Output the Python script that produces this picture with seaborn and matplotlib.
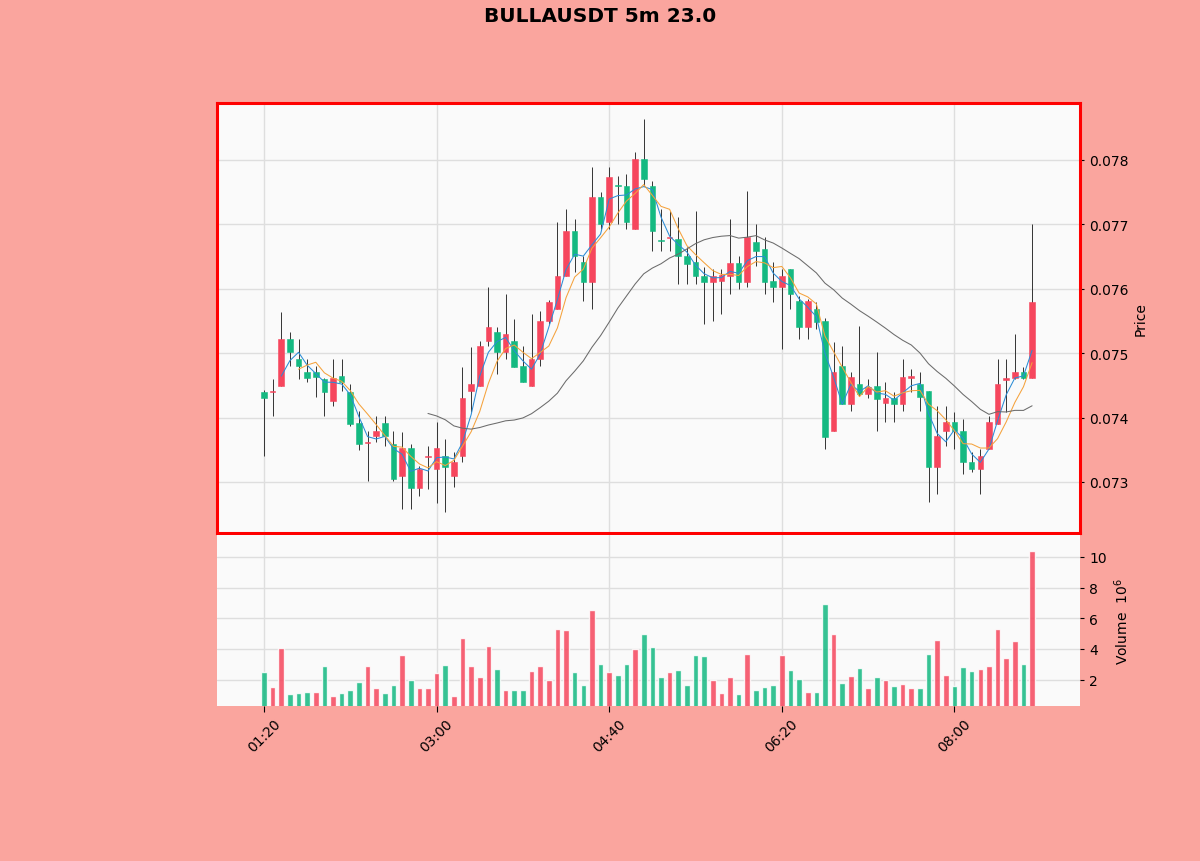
import matplotlib
matplotlib.use("Agg")
import matplotlib.pyplot as plt
import seaborn as sns
import numpy as np
import pandas as pd

# 5m candles, BULLAUSDT, starting 01:20
start_time = "01:20"
step_min = 5

opens = [0.07440, 0.07439, 0.07449, 0.07522, 0.07491, 0.07471, 0.07471, 0.07460, 0.07426, 0.07465,
         0.07440, 0.07392, 0.07360, 0.07371, 0.07392, 0.07359, 0.07309, 0.07353, 0.07291, 0.07338,
         0.07320, 0.07340, 0.07309, 0.07340, 0.07441, 0.07449, 0.07519, 0.07533, 0.07502, 0.07519,
         0.07480, 0.07449, 0.07491, 0.07550, 0.07569, 0.07620, 0.07690, 0.07642, 0.07611, 0.07743,
         0.07704, 0.07761, 0.07760, 0.07693, 0.07802, 0.07760, 0.07676, 0.07679, 0.07677, 0.07651,
         0.07642, 0.07620, 0.07611, 0.07612, 0.07620, 0.07640, 0.07611, 0.07673, 0.07662, 0.07612,
         0.07603, 0.07631, 0.07581, 0.07541, 0.07569, 0.07550, 0.07379, 0.07480, 0.07421, 0.07452,
         0.07437, 0.07449, 0.07422, 0.07430, 0.07421, 0.07462, 0.07452, 0.07441, 0.07323, 0.07379,
         0.07393, 0.07379, 0.07331, 0.07320, 0.07351, 0.07390, 0.07459, 0.07461, 0.07471, 0.07462]

highs = [0.07442, 0.07460, 0.07564, 0.07533, 0.07522, 0.07491, 0.07480, 0.07462, 0.07491, 0.07491,
         0.07452, 0.07410, 0.07379, 0.07403, 0.07403, 0.07379, 0.07378, 0.07359, 0.07325, 0.07356,
         0.07393, 0.07367, 0.07347, 0.07479, 0.07510, 0.07519, 0.07603, 0.07541, 0.07592, 0.07553,
         0.07511, 0.07561, 0.07566, 0.07583, 0.07704, 0.07724, 0.07708, 0.07651, 0.07789, 0.07750,
         0.07789, 0.07775, 0.07778, 0.07812, 0.07864, 0.07767, 0.07724, 0.07721, 0.07711, 0.07665,
         0.07721, 0.07634, 0.07631, 0.07631, 0.07708, 0.07651, 0.07752, 0.07701, 0.07680, 0.07642,
         0.07631, 0.07631, 0.07589, 0.07584, 0.07580, 0.07555, 0.07517, 0.07511, 0.07471, 0.07542,
         0.07460, 0.07502, 0.07455, 0.07440, 0.07491, 0.07476, 0.07470, 0.07441, 0.07418, 0.07418,
         0.07409, 0.07398, 0.07346, 0.07351, 0.07403, 0.07491, 0.07491, 0.07530, 0.07479, 0.07701]

lows = [0.07340, 0.07403, 0.07449, 0.07480, 0.07460, 0.07455, 0.07432, 0.07403, 0.07418, 0.07441,
        0.07387, 0.07350, 0.07302, 0.07362, 0.07356, 0.07302, 0.07258, 0.07258, 0.07278, 0.07289,
        0.07268, 0.07253, 0.07292, 0.07331, 0.07409, 0.07449, 0.07511, 0.07468, 0.07491, 0.07479,
        0.07455, 0.07449, 0.07480, 0.07545, 0.07569, 0.07620, 0.07626, 0.07581, 0.07569, 0.07693,
        0.07693, 0.07701, 0.07693, 0.07693, 0.07760, 0.07659, 0.07659, 0.07659, 0.07607, 0.07607,
        0.07607, 0.07545, 0.07550, 0.07561, 0.07592, 0.07600, 0.07603, 0.07635, 0.07592, 0.07580,
        0.07507, 0.07569, 0.07522, 0.07522, 0.07538, 0.07351, 0.07379, 0.07421, 0.07410, 0.07434,
        0.07430, 0.07379, 0.07393, 0.07393, 0.07410, 0.07440, 0.07410, 0.07269, 0.07281, 0.07356,
        0.07351, 0.07312, 0.07315, 0.07281, 0.07351, 0.07390, 0.07409, 0.07460, 0.07460, 0.07462]

closes = [0.07430, 0.07441, 0.07522, 0.07502, 0.07480, 0.07462, 0.07463, 0.07440, 0.07461, 0.07455,
          0.07390, 0.07359, 0.07362, 0.07379, 0.07371, 0.07305, 0.07353, 0.07291, 0.07320, 0.07340,
          0.07353, 0.07323, 0.07331, 0.07430, 0.07452, 0.07511, 0.07541, 0.07502, 0.07530, 0.07479,
          0.07455, 0.07491, 0.07550, 0.07580, 0.07620, 0.07690, 0.07651, 0.07611, 0.07743, 0.07701,
          0.07774, 0.07759, 0.07704, 0.07802, 0.07770, 0.07690, 0.07674, 0.07681, 0.07651, 0.07639,
          0.07620, 0.07611, 0.07620, 0.07621, 0.07640, 0.07611, 0.07680, 0.07659, 0.07611, 0.07603,
          0.07620, 0.07592, 0.07541, 0.07581, 0.07548, 0.07370, 0.07471, 0.07421, 0.07463, 0.07437,
          0.07448, 0.07429, 0.07431, 0.07421, 0.07463, 0.07464, 0.07432, 0.07323, 0.07371, 0.07393,
          0.07379, 0.07331, 0.07320, 0.07340, 0.07393, 0.07452, 0.07461, 0.07471, 0.07462, 0.07580]

# volume in millions
volumes = [2.50, 1.50, 4.05, 1.03, 1.14, 1.20, 1.20, 2.86, 0.92, 1.14,
           1.35, 1.83, 2.86, 1.46, 1.14, 1.63, 3.60, 2.00, 1.46, 1.46,
           2.43, 2.97, 0.92, 4.69, 2.86, 2.20, 4.19, 2.69, 1.29, 1.29,
           1.35, 2.58, 2.86, 1.96, 5.27, 5.23, 2.50, 1.63, 6.52, 3.00,
           2.50, 2.32, 3.00, 4.00, 4.95, 4.10, 2.17, 2.50, 2.60, 1.63,
           3.60, 3.55, 2.00, 1.14, 2.20, 1.03, 3.68, 1.29, 1.52, 1.63,
           3.60, 2.60, 2.05, 1.20, 1.20, 6.95, 4.95, 1.77, 2.26, 2.75,
           1.42, 2.20, 1.96, 1.57, 1.74, 1.46, 1.42, 3.70, 4.56, 2.32,
           1.57, 2.84, 2.58, 2.71, 2.88, 5.31, 3.40, 4.52, 3.00, 10.39]

mav_periods = [3, 5, 20]
mav_colors = ["#2b8cd6", "#f5a23c", "#6b6b6b"]
tick_every = 20

up_color = "#f6465d"
down_color = "#14b981"
bg_color = "#faa59e"

df = pd.DataFrame({"open": opens, "high": highs, "low": lows, "close": closes, "volume": volumes})
df["i"] = np.arange(len(df))
df["time"] = pd.date_range("2021-01-01 " + start_time, periods=len(df), freq=f"{step_min}min")
df["up"] = df["close"] >= df["open"]
prev = df["close"].shift(1)
df["vdir"] = np.where(prev.isna(), np.where(df["up"], "up", "down"),
                      np.where(df["close"] >= prev, "up", "down"))

sns.set_theme(style="whitegrid")
plt.rcParams.update({
    "figure.facecolor": bg_color,
    "axes.facecolor": "#fafafa",
    "grid.color": "#dedede",
    "grid.linewidth": 1.0,
    "text.color": "black",
    "xtick.color": "black",
    "ytick.color": "black",
    "axes.labelcolor": "black",
})
plt.rcParams["font.family"] = ["DejaVu Sans"]

fig = plt.figure(figsize=(12, 8.62), dpi=100)
ax = fig.add_axes([0.1808, 0.3805, 0.7192, 0.4988])
axv = fig.add_axes([0.1808, 0.1798, 0.7192, 0.1984])

# candles
body_lo = np.minimum(df["open"], df["close"])
body_h = np.maximum((df["close"] - df["open"]).abs(), 0.000015)
colors = np.where(df["up"], up_color, down_color)
ax.vlines(df["i"], df["low"], df["high"], color="#333333", linewidth=0.7, zorder=2)
ax.bar(df["i"], body_h, bottom=body_lo, width=0.65, color=colors, edgecolor=colors,
       linewidth=0.4, zorder=3)

# moving averages
for n, c in zip(mav_periods, mav_colors):
    ma = df["close"].rolling(n).mean()
    sns.lineplot(x=df["i"], y=ma, ax=ax, color=c, linewidth=0.75, zorder=4)

rng = df["high"].max() - df["low"].min()
ax.set_ylim(df["low"].min() - 0.053 * rng, df["high"].max() + 0.04 * rng)
xlim = (-5.45, len(df) - 1 + 5.55)
ax.set_xlim(*xlim)
ax.yaxis.tick_right()
ax.yaxis.set_label_position("right")
ax.set_ylabel("Price", fontsize=10)
ax.set_xlabel("")
ax.set_yticks([0.073, 0.074, 0.075, 0.076, 0.077, 0.078])
ax.set_yticklabels([f"{v:.3f}" for v in [0.073, 0.074, 0.075, 0.076, 0.077, 0.078]])
ticks = list(range(0, len(df), tick_every))
ax.set_xticks(ticks)
ax.tick_params(axis="x", labelbottom=False, length=0)
ax.tick_params(axis="y", length=3, width=0.8, labelsize=10)
for s in ax.spines.values():
    s.set_color("red")
    s.set_linewidth(2.2)
    s.set_visible(True)

# volume
sns.barplot(x=df["i"], y=df["volume"], hue=df["vdir"], palette={"up": up_color, "down": down_color},
            dodge=False, width=0.65, saturation=1, alpha=0.85, legend=False, ax=axv, zorder=3)
axv.set_xlim(*xlim)
axv.set_ylim(0.3 * df["volume"].min(), 1.1 * df["volume"].max())
axv.yaxis.tick_right()
axv.yaxis.set_label_position("right")
axv.set_ylabel("Volume  $10^6$", fontsize=10)
axv.set_yticks([2, 4, 6, 8, 10])
axv.set_xticks(ticks)
axv.set_xticklabels([df["time"][t].strftime("%H:%M") for t in ticks], rotation=45, ha="center")
axv.set_xlabel("")
axv.grid(True, axis="both")
axv.tick_params(axis="x", length=4, width=0.8, bottom=True, labelsize=10)
axv.tick_params(axis="y", length=3, width=0.8, right=True, labelsize=10)
for s in axv.spines.values():
    s.set_visible(False)

fig.text(0.5, 1 - 16 / 862, "BULLAUSDT 5m 23.0", ha="center", va="center",
         fontsize=14.5, fontweight="bold", color="black")

fig.savefig("out.png", dpi=100, facecolor=bg_color)
